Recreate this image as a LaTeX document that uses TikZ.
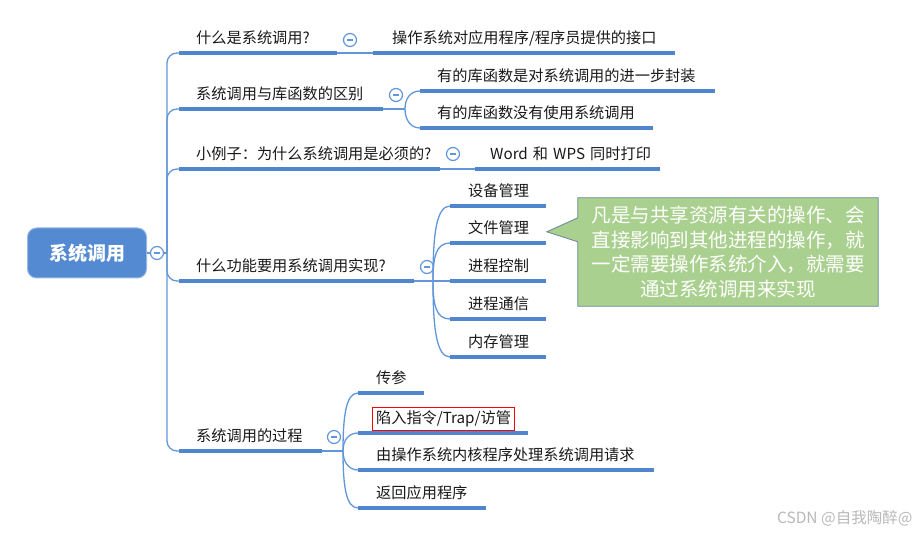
\documentclass[tikz,border=0pt]{standalone}
\usepackage{fontspec}
\setmainfont{Noto Sans CJK SC}
\usetikzlibrary{calc,backgrounds}
\definecolor{mmblue}{RGB}{79,134,205}
\definecolor{mmline}{RGB}{98,150,218}
\definecolor{mmroot}{RGB}{84,138,210}
\definecolor{notegreen}{RGB}{169,208,142}
\definecolor{noteedge}{RGB}{104,134,150}

\begin{document}
\begin{tikzpicture}[x=1pt, y=-1pt,
  root/.style={draw=mmroot!60!white, line width=1pt, fill=mmroot, rounded corners=9pt,
               minimum width=119pt, minimum height=50pt, text=white,
               font=\fontsize{19}{19}\bfseries\selectfont},
  fold/.style={circle, draw=mmline, line width=1.2pt, fill=white, minimum size=13pt, inner sep=0pt,
               path picture={\draw[mmline, line width=1.1pt]
                 ([xshift=-3pt]path picture bounding box.center) --
                 ([xshift=3pt]path picture bounding box.center);}},
  topic/.style={anchor=south west, inner xsep=0pt, inner ysep=5pt, text height=12pt,
                text depth=4pt, align=left, text=black!90, font=\fontsize{15.2}{15.2}\selectfont},
  uline/.style={draw=mmblue, line width=4pt},
  conn/.style={draw=mmline, line width=1.3pt},
  note/.style={minimum width=300pt, minimum height=108pt, align=center, text=white,
               font=\fontsize{19.5}{24.5}\selectfont}]
\useasboundingbox (0,0) rectangle (919,534);

% root
\node[root] (sys) at (87,253) {系统调用};
\node[fold] (c0) at (157,253) {};
\coordinate (hub) at (167,253);

% branch 1
\node[topic, text width=158pt] (q1) at (179,53) {\hspace*{17pt}什么是系统调用?};
\node[fold] (c1) at (350,40) {};
\node[topic, text width=302pt] (a1) at (373,53) {\hspace*{19pt}操作系统对应用程序/程序员提供的接口};

% branch 2
\node[topic, text width=204pt] (q2) at (179,109) {\hspace*{17pt}系统调用与库函数的区别};
\node[fold] (c2) at (396,95) {};
\coordinate (j2) at (405,109);
\node[topic, text width=295pt] (b1) at (420,91) {\hspace*{17pt}有的库函数是对系统调用的进一步封装};
\node[topic, text width=233pt] (b2) at (420,128) {\hspace*{17pt}有的库函数没有使用系统调用};

% branch 3
\node[topic, text width=261pt] (q3) at (179,169) {\hspace*{17pt}小例子：为什么系统调用是必须的?};
\node[fold] (c3) at (453,154) {};
\node[topic, text width=185pt] (d1) at (475,169) {\hspace*{15pt}Word 和 WPS 同时打印};

% branch 4
\node[topic, text width=235pt] (q4) at (179,281) {\hspace*{17pt}什么功能要用系统调用实现?};
\node[fold] (c4) at (427,267) {};
\coordinate (j4) at (433,281);
\node[topic, text width=96pt] (f1) at (450,206) {\hspace*{18pt}设备管理};
\node[topic, text width=96pt] (f2) at (450,243) {\hspace*{18pt}文件管理};
\node[topic, text width=96pt] (f3) at (450,281) {\hspace*{18pt}进程控制};
\node[topic, text width=96pt] (f4) at (450,319) {\hspace*{18pt}进程通信};
\node[topic, text width=96pt] (f5) at (450,357) {\hspace*{18pt}内存管理};

% branch 5
\node[topic, text width=143pt] (q5) at (179,451) {\hspace*{17pt}系统调用的过程};
\node[fold] (c5) at (334,437) {};
\coordinate (j5) at (343,451);
\node[topic, text width=66pt] (p1) at (358,393) {\hspace*{18pt}传参};
\node[topic, text width=170pt] (p2) at (358,433)
  {\hspace*{14pt}{\fboxsep=3pt\fboxrule=0.9pt\fcolorbox{red}{white}{陷入指令/Trap/访管}}};
\node[topic, text width=296pt] (p3) at (358,470) {\hspace*{18pt}由操作系统内核程序处理系统调用请求};
\node[topic, text width=128pt] (p4) at (358,508) {\hspace*{18pt}返回应用程序};

% underlines
\foreach \n in {q1,a1,q2,b1,b2,q3,d1,q4,f1,f2,f3,f4,f5,q5,p1,p2,p3,p4}
  \draw[uline] (\n.south west) -- (\n.south east);

% connectors
\draw[conn] (sys.east) -- (c0.west);
\draw[conn] (c0.east) -- (hub);
\foreach \n in {q1,q2,q3,q4,q5}
  \draw[conn, rounded corners=10pt] (hub) |- (\n.south west);
\draw[conn] (q1.south east) -- (a1.south west);
\draw[conn] (q2.south east) -- (j2);
\draw[conn] (j2) .. controls +(0,-10) and +(-10,0) .. (b1.south west);
\draw[conn] (j2) .. controls +(0,10) and +(-10,0) .. (b2.south west);
\draw[conn] (q3.south east) -- (d1.south west);
\draw[conn] (q4.south east) -- (f3.south west);
\draw[conn] (j4) .. controls +(0,-45) and +(-14,0) .. (f1.south west);
\draw[conn] (j4) .. controls +(0,-24) and +(-14,0) .. (f2.south west);
\draw[conn] (j4) .. controls +(0,24) and +(-14,0) .. (f4.south west);
\draw[conn] (j4) .. controls +(0,45) and +(-14,0) .. (f5.south west);
\draw[conn] (q5.south east) -- (j5);
\draw[conn] (j5) .. controls +(0,-35) and +(-12,0) .. (p1.south west);
\draw[conn] (j5) .. controls +(0,-10) and +(-10,0) .. (p2.south west);
\draw[conn] (j5) .. controls +(0,10) and +(-10,0) .. (p3.south west);
\draw[conn] (j5) .. controls +(0,35) and +(-12,0) .. (p4.south west);

% callout
\node[note] (tip) at (728,252) {凡是与共享资源有关的操作、会\\直接影响到其他进程的操作，就\\一定需要操作系统介入，就需要\\通过系统调用来实现};
\begin{scope}[on background layer]
\draw[fill=notegreen, draw=noteedge, line width=0.8pt]
  (tip.north west) -- (tip.north east) -- (tip.south east) -- (tip.south west)
  -- ($(tip.north west)+(0,44)$) -- ($(tip.north west)+(-31,34)$)
  -- ($(tip.north west)+(0,20)$) -- cycle;
\end{scope}

\node[anchor=east, text=black!28, font=\fontsize{15.5}{15.5}\selectfont] (mark) at (916,518) {CSDN @自我陶醉@};
\end{tikzpicture}
\end{document}
